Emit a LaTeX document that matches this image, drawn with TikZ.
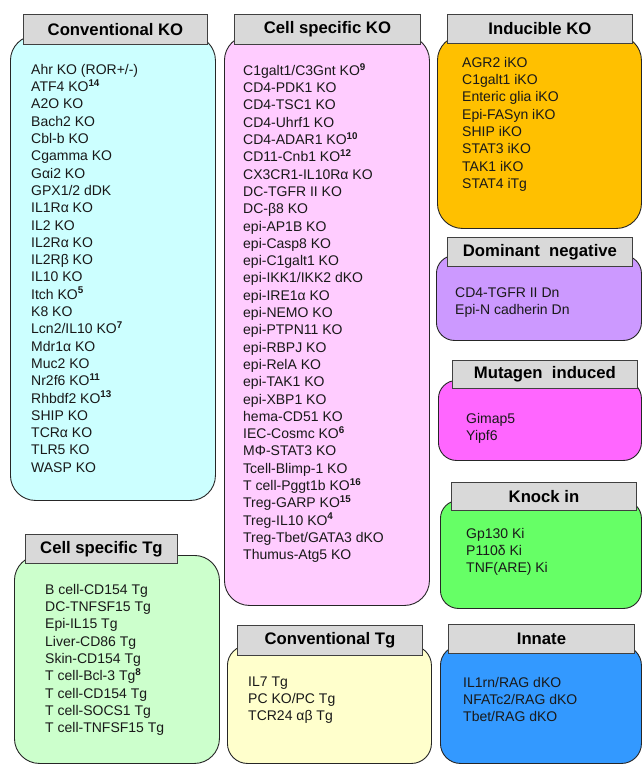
\documentclass[tikz,border=0pt]{standalone}
\usepackage{fontspec}
\setmainfont{Liberation Sans}
\definecolor{cKO}{HTML}{CCFFFF}
\definecolor{csKO}{HTML}{FFCCFF}
\definecolor{iKO}{HTML}{FFC000}
\definecolor{dNeg}{HTML}{CC99FF}
\definecolor{mut}{HTML}{FF66FF}
\definecolor{kin}{HTML}{66FF66}
\definecolor{inn}{HTML}{3399FF}
\definecolor{csTg}{HTML}{CCFFCC}
\definecolor{cTg}{HTML}{FFFFCC}
\definecolor{hdrC}{HTML}{D9D9D9}
\newcommand{\sref}[1]{\textsuperscript{\bfseries #1}}
\tikzset{
  body/.style={draw=black!85, line width=0.9pt, rounded corners=#1, anchor=north west, inner sep=0pt},
  body/.default=25pt,
  hdr/.style={draw=black!75, line width=0.9pt, fill=hdrC, anchor=north west, inner sep=0pt,
    font=\fontsize{16.7}{20}\selectfont\bfseries},
  lst/.style={anchor=north west, inner sep=0pt, align=left, text=black!90,
    font=\fontsize{14}{17.3}\selectfont}
}
\begin{document}
\begin{tikzpicture}[x=1pt,y=-1pt]
\useasboundingbox (0,0) rectangle (642,765);
% ---- bodies
\node[body, fill=cKO, minimum width=205pt, minimum height=465pt] (convKObody) at (10,35) {};
\node[body, fill=csKO, minimum width=205pt, minimum height=570pt] (cellKObody) at (224,35) {};
\node[body, fill=iKO, minimum width=204pt, minimum height=193pt] (indKObody) at (437,35) {};
\node[body=18pt, fill=dNeg, minimum width=205pt, minimum height=85pt] (dnBody) at (436,255) {};
\node[body=18pt, fill=mut, minimum width=203pt, minimum height=80pt] (mutBody) at (438,380) {};
\node[body=18pt, fill=kin, minimum width=201pt, minimum height=108pt] (kiBody) at (440,500) {};
\node[body=20pt, fill=inn, minimum width=201pt, minimum height=118pt] (innBody) at (440,645) {};
\node[body, fill=csTg, minimum width=205pt, minimum height=208pt] (cellTgBody) at (14,555) {};
\node[body=20pt, fill=cTg, minimum width=204pt, minimum height=118pt] (convTgBody) at (227,645) {};
% ---- headers
\node[hdr, minimum width=184pt, minimum height=30pt] (convKOhdr) at (23,14) {Conventional KO};
\node[hdr, minimum width=186pt, minimum height=30pt] (cellKOhdr) at (234,14) {Cell specific KO};
\node[hdr, minimum width=185pt, minimum height=29pt] (indKOhdr) at (447,14) {Inducible KO};
\node[hdr, minimum width=185pt, minimum height=29pt] (dnHdr) at (447,237) {Dominant\ \ negative};
\node[hdr, minimum width=185pt, minimum height=28pt] (mutHdr) at (452,360) {Mutagen\ \ induced};
\node[hdr, minimum width=185pt, minimum height=28pt] (kiHdr) at (451,482) {Knock in};
\node[hdr, minimum width=186pt, minimum height=29pt] (innHdr) at (448,624) {Innate};
\node[hdr, minimum width=152pt, minimum height=29pt] (cellTgHdr) at (25,534) {Cell specific Tg};
\node[hdr, minimum width=185pt, minimum height=30pt] (convTgHdr) at (237,625) {Conventional Tg};
% ---- lists (top = first baseline - 12.1)
\node[lst] (convKOlist) at (31,62) {\strut Ahr KO (ROR+/-)\\ATF4 KO\sref{14}\\A2O KO\\Bach2 KO\\Cbl-b KO\\Cgamma KO\\Gαi2 KO\\GPX1/2 dDK\\IL1Rα KO\\IL2 KO\\IL2Rα KO\\IL2Rβ KO\\IL10 KO\\Itch KO\sref{5}\\K8 KO\\Lcn2/IL10 KO\sref{7}\\Mdr1α KO\\Muc2 KO\\Nr2f6 KO\sref{11}\\Rhbdf2 KO\sref{13}\\SHIP KO\\TCRα KO\\TLR5 KO\\WASP KO};
\node[lst] (cellKOlist) at (243,63) {\strut C1galt1/C3Gnt KO\sref{9}\\CD4-PDK1 KO\\CD4-TSC1 KO\\CD4-Uhrf1 KO\\CD4-ADAR1 KO\sref{10}\\CD11-Cnb1 KO\sref{12}\\CX3CR1-IL10Rα KO\\DC-TGFR II KO\\DC-β8 KO\\epi-AP1B KO\\epi-Casp8 KO\\epi-C1galt1 KO\\epi-IKK1/IKK2 dKO\\epi-IRE1α KO\\epi-NEMO KO\\epi-PTPN11 KO\\epi-RBPJ KO\\epi-RelA KO\\epi-TAK1 KO\\epi-XBP1 KO\\hema-CD51 KO\\IEC-Cosmc KO\sref{6}\\MΦ-STAT3 KO\\Tcell-Blimp-1 KO\\T cell-Pggt1b KO\sref{16}\\Treg-GARP KO\sref{15}\\Treg-IL10 KO\sref{4}\\Treg-Tbet/GATA3 dKO\\Thumus-Atg5 KO};
\node[lst] (indKOlist) at (462,55) {\strut AGR2 iKO\\C1galt1 iKO\\Enteric glia iKO\\Epi-FASyn iKO\\SHIP iKO\\STAT3 iKO\\TAK1 iKO\\STAT4 iTg};
\node[lst] (dnList) at (455,285) {\strut CD4-TGFR II Dn\\Epi-N cadherin Dn};
\node[lst] (mutList) at (466,411) {\strut Gimap5\\Yipf6};
\node[lst] (kiList) at (466,526) {\strut Gp130 Ki\\P110δ Ki\\TNF(ARE) Ki};
\node[lst] (innList) at (463,675) {\strut IL1rn/RAG dKO\\NFATc2/RAG dKO\\Tbet/RAG dKO};
\node[lst] (cellTgList) at (45,582) {\strut B cell-CD154 Tg\\DC-TNFSF15 Tg\\Epi-IL15 Tg\\Liver-CD86 Tg\\Skin-CD154 Tg\\T cell-Bcl-3 Tg\sref{8}\\T cell-CD154 Tg\\T cell-SOCS1 Tg\\T cell-TNFSF15 Tg};
\node[lst] (convTgList) at (248,674) {\strut IL7 Tg\\PC KO/PC Tg\\TCR24 αβ Tg};
\end{tikzpicture}
\end{document}
